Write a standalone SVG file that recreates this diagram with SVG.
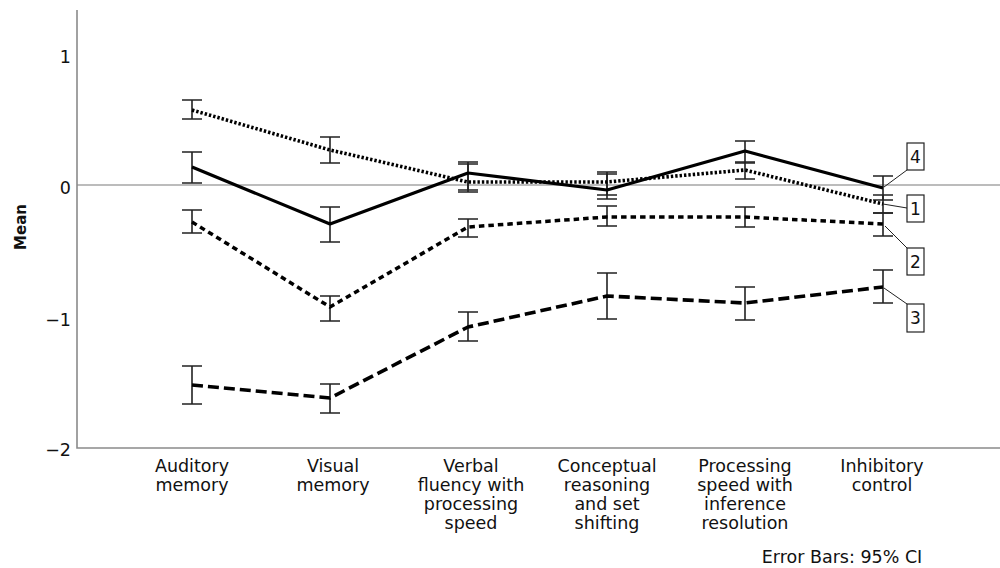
<svg xmlns="http://www.w3.org/2000/svg" width="1000" height="568" viewBox="0 0 1000 568">
<style>
text{font-family:"DejaVu Sans","Liberation Sans",sans-serif;fill:#111}
.tick{font-size:17.5px;text-anchor:end}
.cat{font-size:17.5px;text-anchor:middle}
.axis{stroke:#8a8a8a;stroke-width:1.6;fill:none}
.zero{stroke:#a6a6a6;stroke-width:1.3}
.eb{stroke:#222;stroke-width:1.6;fill:none}
.ln{fill:none;stroke:#000;stroke-linejoin:round}
.l4{stroke-width:3.2}
.l1{stroke-width:3.6;stroke-dasharray:2.4 2}
.l2{stroke-width:3.5;stroke-dasharray:5.5 4}
.l3{stroke-width:3.6;stroke-dasharray:11 5}
.box{fill:#fff;stroke:#222;stroke-width:1.2}
.lead{stroke:#222;stroke-width:1;fill:none}
.bl{font-size:17px;text-anchor:middle}
</style>
<g id="axes">
<line class="zero" x1="77" y1="185" x2="1000" y2="185"/>
<polyline class="axis" points="77,10 77,448 1000,448"/>
<text class="tick" x="71" y="63">1</text>
<text class="tick" x="71" y="194">0</text>
<text class="tick" x="71" y="326">−1</text>
<text class="tick" x="71" y="456">−2</text>
<text x="26" y="227" transform="rotate(-90 26 227)" style="font-size:15px;font-weight:bold;text-anchor:middle">Mean</text>
</g>
<g id="categories">
<text class="cat" x="192" y="472">Auditory<tspan x="192" dy="19">memory</tspan></text>
<text class="cat" x="333" y="472">Visual<tspan x="333" dy="19">memory</tspan></text>
<text class="cat" x="471" y="472">Verbal<tspan x="471" dy="19">fluency with</tspan><tspan x="471" dy="19">processing</tspan><tspan x="471" dy="19">speed</tspan></text>
<text class="cat" x="607" y="472">Conceptual<tspan x="607" dy="19">reasoning</tspan><tspan x="607" dy="19">and set</tspan><tspan x="607" dy="19">shifting</tspan></text>
<text class="cat" x="745" y="472">Processing<tspan x="745" dy="19">speed with</tspan><tspan x="745" dy="19">inference</tspan><tspan x="745" dy="19">resolution</tspan></text>
<text class="cat" x="882" y="472">Inhibitory<tspan x="882" dy="19">control</tspan></text>
<text x="842" y="563" style="font-size:17.5px;text-anchor:middle">Error Bars: 95% CI</text>
</g>
<g id="errorbars">
<path class="eb" d="M192,100V119M182,100H202M182,119H202
M330,137V163M320,137H340M320,163H340
M468,164V190M458,164H478M458,190H478
M607,174V195M597,174H617M597,195H617
M745,162V179M735,162H755M735,179H755
M883,195V213M873,195H893M873,213H893"/>
<path class="eb" d="M192,152V183M182,152H202M182,183H202
M330,207V242M320,207H340M320,242H340
M468,162V192M458,162H478M458,192H478
M607,172V199M597,172H617M597,199H617
M745,141V163M735,141H755M735,163H755
M883,176V200M873,176H893M873,200H893"/>
<path class="eb" d="M192,210V233M182,210H202M182,233H202
M330,296V321M320,296H340M320,321H340
M468,219V237M458,219H478M458,237H478
M607,206V226M597,206H617M597,226H617
M745,207V227M735,207H755M735,227H755
M883,213V236M873,213H893M873,236H893"/>
<path class="eb" d="M192,366V404M182,366H202M182,404H202
M330,384V413M320,384H340M320,413H340
M468,312V341M458,312H478M458,341H478
M607,273V319M597,273H617M597,319H617
M745,287V320M735,287H755M735,320H755
M883,270V303M873,270H893M873,303H893"/>
</g>
<g id="connectors">
<polyline id="line1" class="ln l1" points="192,110 330,150 468,182 607,182 745,170 883,204"/>
<polyline id="line4" class="ln l4" points="192,167 330,224 468,173 607,190 745,151 883,188"/>
<polyline id="line2" class="ln l2" points="192,222 330,307 468,227 607,217 745,217 883,224"/>
<polyline id="line3" class="ln l3" points="192,385 330,398 468,327 607,296 745,303 883,287"/>
<line class="lead" x1="907" y1="170" x2="884" y2="187"/>
<line class="lead" x1="907" y1="208" x2="883" y2="204"/>
<line class="lead" x1="907" y1="248" x2="885" y2="226"/>
<line class="lead" x1="907" y1="304" x2="884" y2="288"/>
</g>
<g id="label4"><rect class="box" x="907" y="143" width="17" height="27"/><text class="bl" x="915.5" y="163">4</text></g>
<g id="label1"><rect class="box" x="907" y="195" width="17" height="27"/><text class="bl" x="915.5" y="215">1</text></g>
<g id="label2"><rect class="box" x="907" y="248" width="17" height="27"/><text class="bl" x="915.5" y="268">2</text></g>
<g id="label3"><rect class="box" x="907" y="304" width="17" height="28"/><text class="bl" x="915.5" y="324">3</text></g>
</svg>
